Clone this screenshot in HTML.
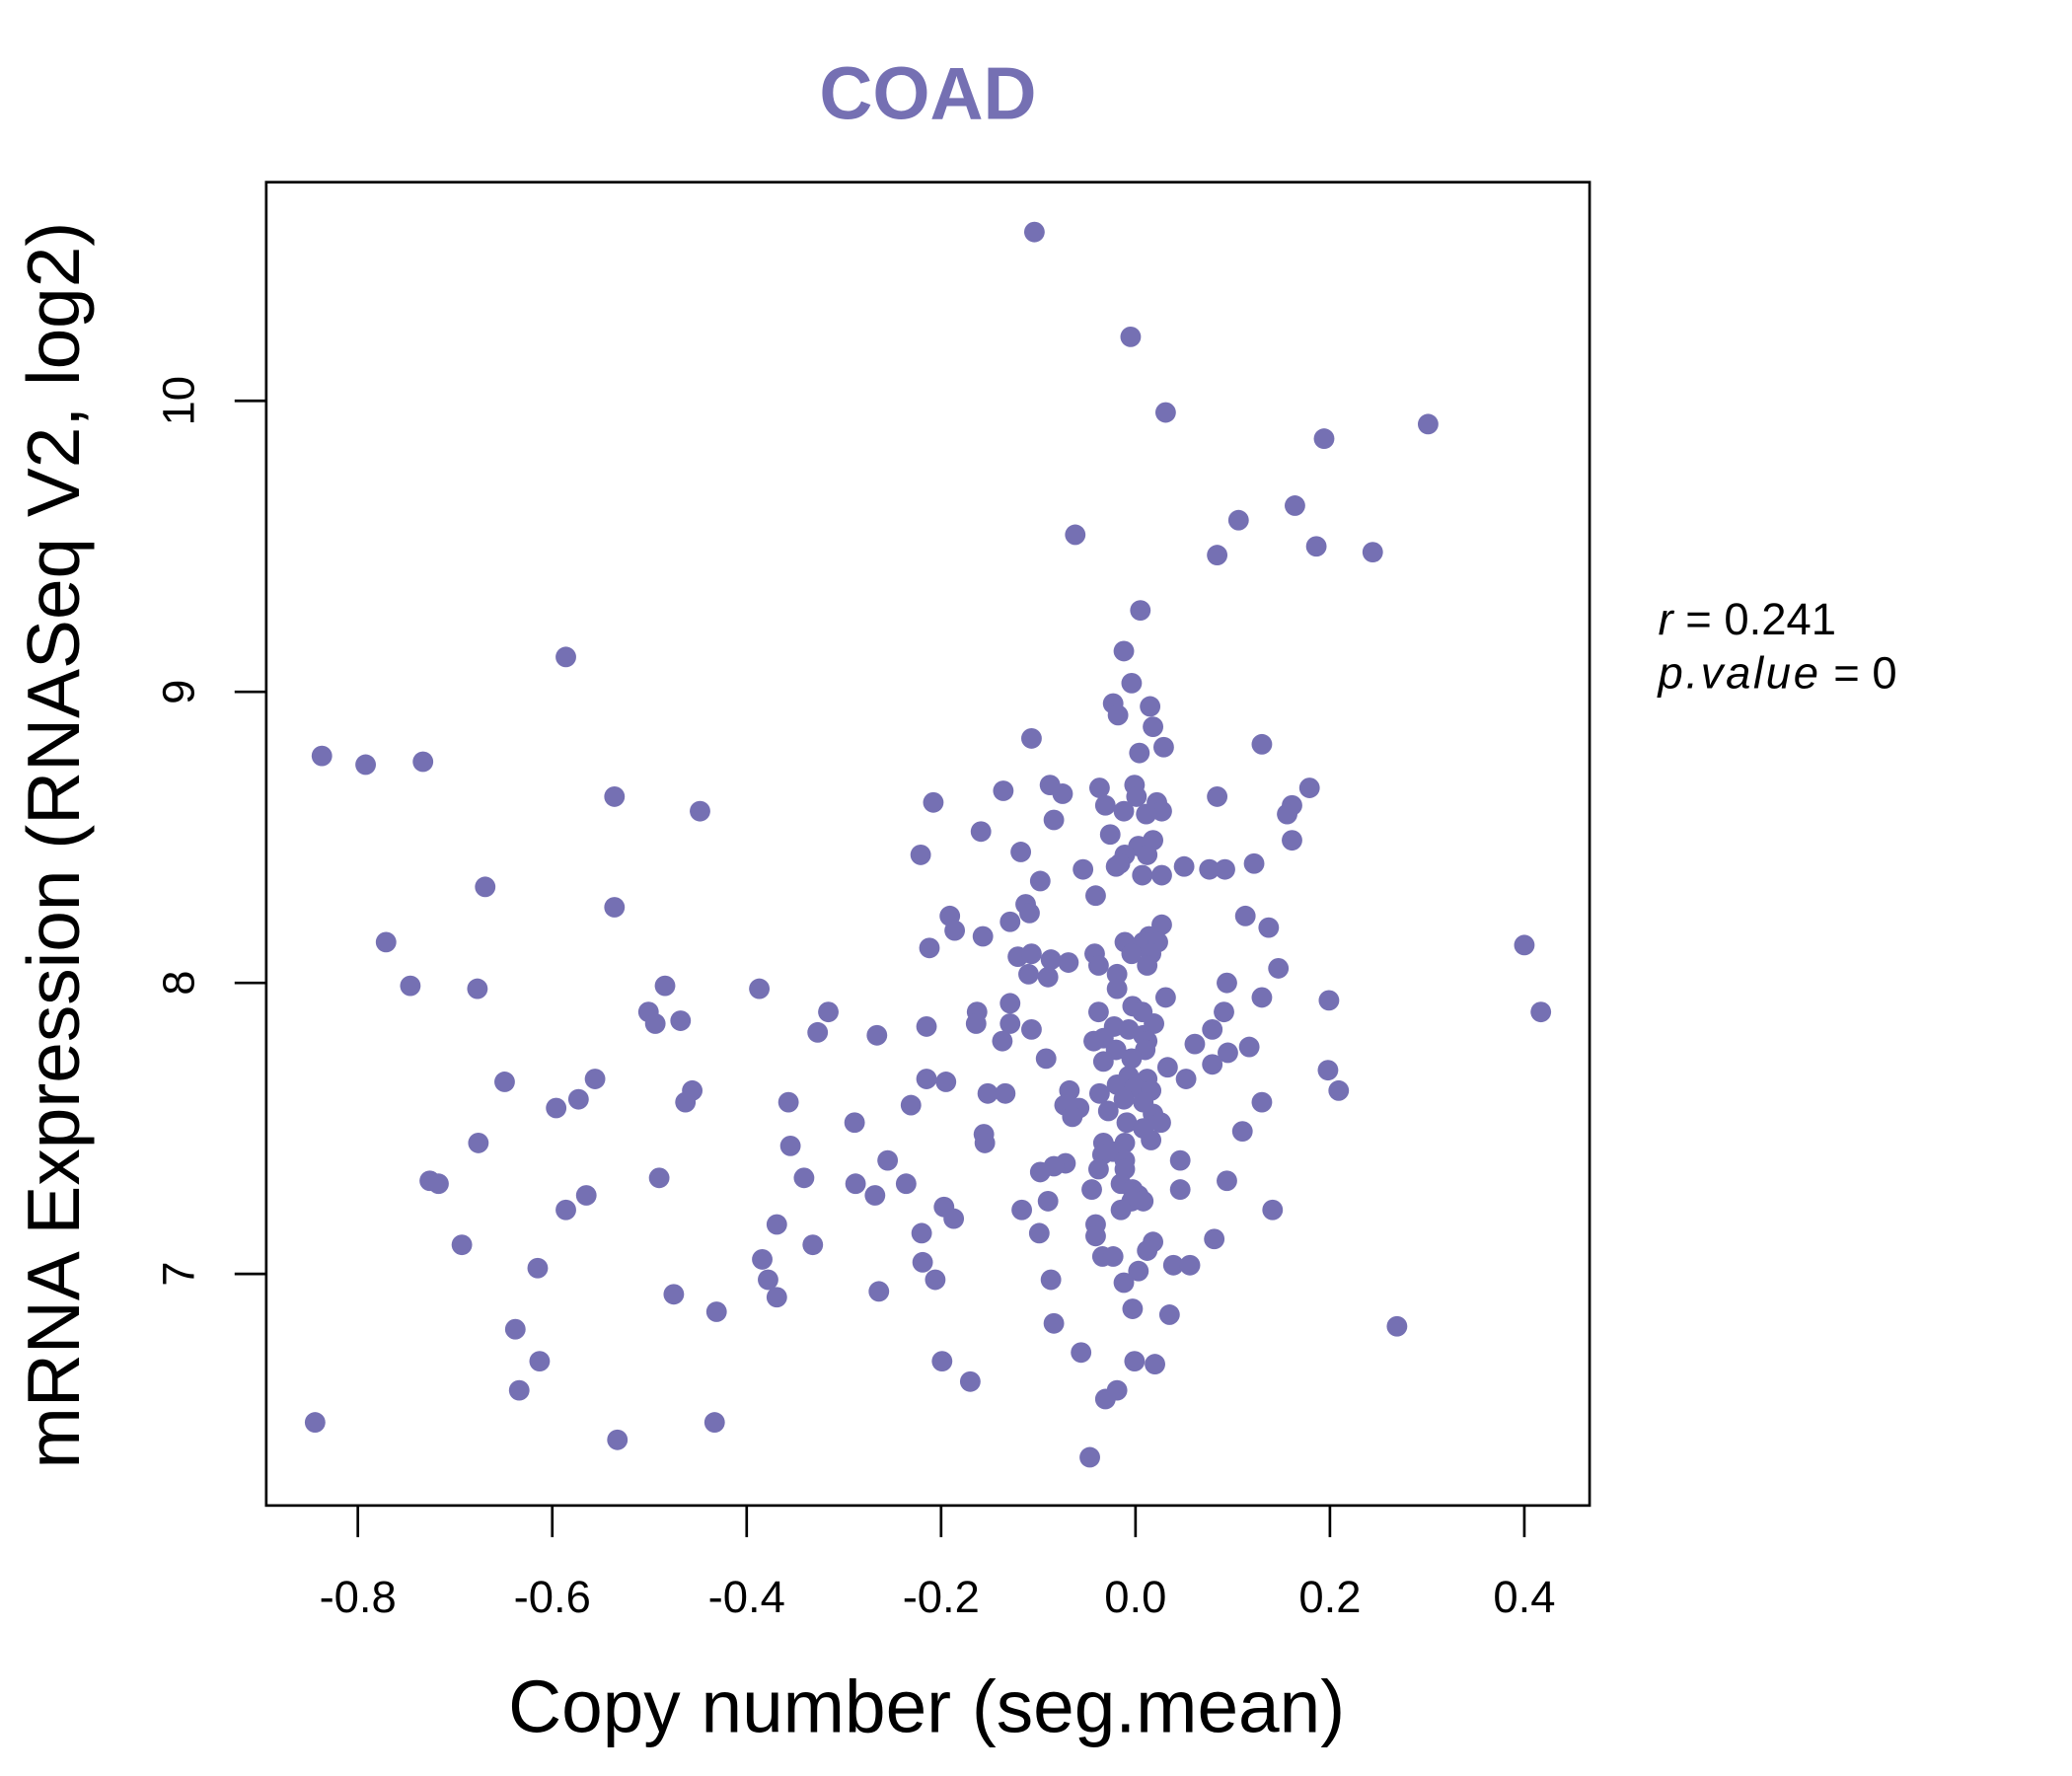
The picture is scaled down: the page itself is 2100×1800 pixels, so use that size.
<!DOCTYPE html>
<html><head><meta charset="utf-8"><style>html,body{margin:0;padding:0;background:#fff}svg{display:block}</style></head>
<body>
<svg id="chart" width="2100" height="1800" viewBox="0 0 1572 1347" xmlns="http://www.w3.org/2000/svg" font-family="'Liberation Sans', sans-serif">
<rect width="1572" height="1347" fill="#fff"/>
<text x="704" y="90" text-anchor="middle" font-size="56" font-weight="bold" fill="#7570B3">COAD</text>
<rect x="202" y="138" width="1004" height="1004" fill="none" stroke="#000" stroke-width="2"/>
<g id="xaxis"></g>
<g id="yaxis"></g>
<g id="points"></g>
<text x="703" y="1314" text-anchor="middle" font-size="56">Copy number (seg.mean)</text>
<text transform="translate(60,641) rotate(-90)" text-anchor="middle" font-size="56">mRNA Expression (RNASeq V2, log2)</text>
<text x="1258" y="481" font-size="34"><tspan font-style="italic">r</tspan> <tspan>=</tspan> 0.241</text>
<text x="1258" y="522" font-size="34"><tspan font-style="italic" letter-spacing="2">p.value</tspan> = 0</text>
</svg>
<script>
const xTicks=[-0.8,-0.6,-0.4,-0.2,0.0,0.2,0.4];
const xTickLabels=["-0.8","-0.6","-0.4","-0.2","0.0","0.2","0.4"];
const yTicks=[7,8,9,10];
const yTickLabels=["7","8","9","10"];
const copyNumber=[-0.104,-0.005,0.031,0.194,0.301,0.164,0.106,0.186,0.244,0.084,-0.062,0.005,-0.586,-0.012,-0.004,-0.023,0.015,-0.018,0.018,-0.107,0.029,0.130,0.004,-0.837,-0.792,-0.733,-0.536,-0.448,-0.208,-0.136,-0.088,-0.075,-0.037,-0.001,0.001,0.022,0.027,-0.031,-0.012,0.011,0.084,0.179,0.161,0.156,-0.084,-0.159,-0.026,0.161,0.018,0.003,-0.118,-0.221,-0.011,-0.016,0.012,0.122,-0.054,-0.020,0.050,0.076,0.092,0.007,0.027,-0.098,-0.669,-0.041,-0.536,-0.113,-0.109,-0.191,0.113,-0.129,0.027,0.137,-0.186,-0.157,-0.771,0.014,-0.011,0.008,0.023,-0.212,-0.042,-0.121,-0.107,-0.004,0.016,0.400,-0.087,-0.069,-0.038,0.012,-0.110,-0.090,-0.019,-0.746,-0.677,-0.484,-0.387,-0.019,0.094,0.147,0.031,0.130,0.199,0.417,-0.501,-0.468,-0.494,-0.316,-0.163,-0.129,-0.164,-0.129,-0.038,-0.003,0.007,0.019,0.091,-0.022,-0.007,0.008,-0.215,-0.327,-0.266,-0.107,0.079,-0.033,0.012,0.061,-0.137,-0.043,-0.020,0.010,0.117,0.095,-0.092,-0.033,0.079,-0.004,0.033,0.198,-0.215,-0.195,0.052,-0.007,0.012,-0.649,-0.556,-0.456,-0.068,-0.019,-0.001,0.016,-0.152,-0.134,-0.037,0.209,-0.573,-0.596,-0.463,-0.357,0.130,-0.073,-0.058,-0.012,0.008,-0.231,-0.028,-0.065,0.018,0.026,-0.289,-0.009,0.008,-0.156,0.110,-0.155,-0.676,-0.355,-0.033,-0.011,0.016,-0.023,-0.034,-0.011,-0.255,0.046,-0.072,-0.084,-0.098,-0.038,-0.011,-0.490,-0.341,0.094,-0.726,-0.717,-0.288,-0.236,-0.015,-0.003,-0.045,0.046,0.003,-0.268,-0.565,-0.090,-0.004,0.008,-0.586,-0.197,-0.117,-0.015,0.141,-0.187,-0.369,-0.041,-0.220,-0.099,-0.041,0.081,0.018,-0.693,-0.332,0.012,-0.034,-0.023,-0.384,-0.219,0.039,0.056,-0.615,0.003,-0.378,-0.206,-0.087,-0.012,-0.264,-0.475,-0.369,-0.003,-0.431,0.035,-0.084,0.269,-0.638,-0.056,-0.613,-0.199,-0.001,0.020,-0.170,-0.634,-0.019,-0.031,-0.844,-0.433,-0.533,-0.047];
const expression=[10.58,10.22,9.96,9.87,9.92,9.64,9.59,9.50,9.48,9.47,9.54,9.28,9.12,9.14,9.03,8.96,8.95,8.92,8.88,8.84,8.81,8.82,8.79,8.78,8.75,8.76,8.64,8.59,8.62,8.66,8.68,8.65,8.67,8.68,8.64,8.62,8.59,8.61,8.59,8.58,8.64,8.67,8.61,8.58,8.56,8.52,8.51,8.49,8.49,8.47,8.45,8.44,8.44,8.41,8.44,8.41,8.39,8.40,8.40,8.39,8.39,8.37,8.37,8.35,8.33,8.30,8.26,8.27,8.24,8.23,8.23,8.21,8.20,8.19,8.18,8.16,8.14,8.16,8.14,8.14,8.14,8.12,8.10,8.09,8.10,8.10,8.10,8.13,8.08,8.07,8.06,8.06,8.03,8.02,8.03,7.99,7.98,7.99,7.98,7.98,8.00,8.05,7.95,7.95,7.94,7.90,7.90,7.87,7.86,7.90,7.90,7.93,7.86,7.86,7.90,7.92,7.90,7.86,7.90,7.85,7.84,7.82,7.85,7.83,7.82,7.84,7.84,7.81,7.80,7.79,7.80,7.80,7.77,7.77,7.78,7.76,7.74,7.73,7.72,7.74,7.71,7.70,7.67,7.66,7.67,7.68,7.67,7.66,7.67,7.63,7.63,7.65,7.64,7.63,7.62,7.62,7.62,7.63,7.60,7.57,7.59,7.59,7.59,7.58,7.57,7.60,7.59,7.58,7.56,7.54,7.55,7.52,7.52,7.52,7.50,7.48,7.49,7.45,7.45,7.44,7.45,7.45,7.46,7.42,7.41,7.39,7.39,7.39,7.38,7.37,7.35,7.36,7.36,7.33,7.33,7.32,7.32,7.31,7.31,7.31,7.31,7.29,7.29,7.29,7.27,7.27,7.27,7.25,7.25,7.25,7.22,7.23,7.22,7.22,7.22,7.19,7.17,7.17,7.14,7.14,7.13,7.12,7.11,7.10,7.10,7.08,7.06,7.06,7.05,7.04,7.03,7.03,7.02,7.01,6.98,6.98,6.98,6.97,6.94,6.93,6.92,6.88,6.87,6.86,6.83,6.82,6.81,6.73,6.70,6.70,6.70,6.69,6.63,6.60,6.60,6.57,6.49,6.49,6.43,6.37];
const NS="http://www.w3.org/2000/svg";
function xScale(v){return 861.5+v*737.5;}
function yScale(v){return 745.5-(v-8)*220.8;}
const xg=document.getElementById('xaxis'),yg=document.getElementById('yaxis'),pg=document.getElementById('points');
xTicks.forEach((t,i)=>{
  const x=xScale(t);
  const l=document.createElementNS(NS,'line');
  
  
  l.setAttribute('x1',x);l.setAttribute('x2',x);l.setAttribute('y1',1142);l.setAttribute('y2',1166);
  l.setAttribute('stroke','#000');l.setAttribute('stroke-width','2');xg.appendChild(l);
  const tx=document.createElementNS(NS,'text');
  
  
  tx.setAttribute('x',x);tx.setAttribute('y',1223);tx.setAttribute('text-anchor','middle');tx.setAttribute('font-size','34');
  tx.textContent=xTickLabels[i];xg.appendChild(tx);
});
yTicks.forEach((t,i)=>{
  const y=yScale(t);
  const l=document.createElementNS(NS,'line');
  
  
  l.setAttribute('x1',178);l.setAttribute('x2',202);l.setAttribute('y1',y);l.setAttribute('y2',y);
  l.setAttribute('stroke','#000');l.setAttribute('stroke-width','2');yg.appendChild(l);
  const tx=document.createElementNS(NS,'text');
  
  
  tx.setAttribute('transform','translate(147,'+y+') rotate(-90)');tx.setAttribute('text-anchor','middle');tx.setAttribute('font-size','34');
  tx.textContent=yTickLabels[i];yg.appendChild(tx);
});
copyNumber.forEach((v,i)=>{
  const c=document.createElementNS(NS,'circle');
  
  
  c.setAttribute('cx',xScale(v));c.setAttribute('cy',yScale(expression[i]));c.setAttribute('r',7.8);
  c.setAttribute('fill','#7570B3');pg.appendChild(c);
});
</script>
</body></html>
